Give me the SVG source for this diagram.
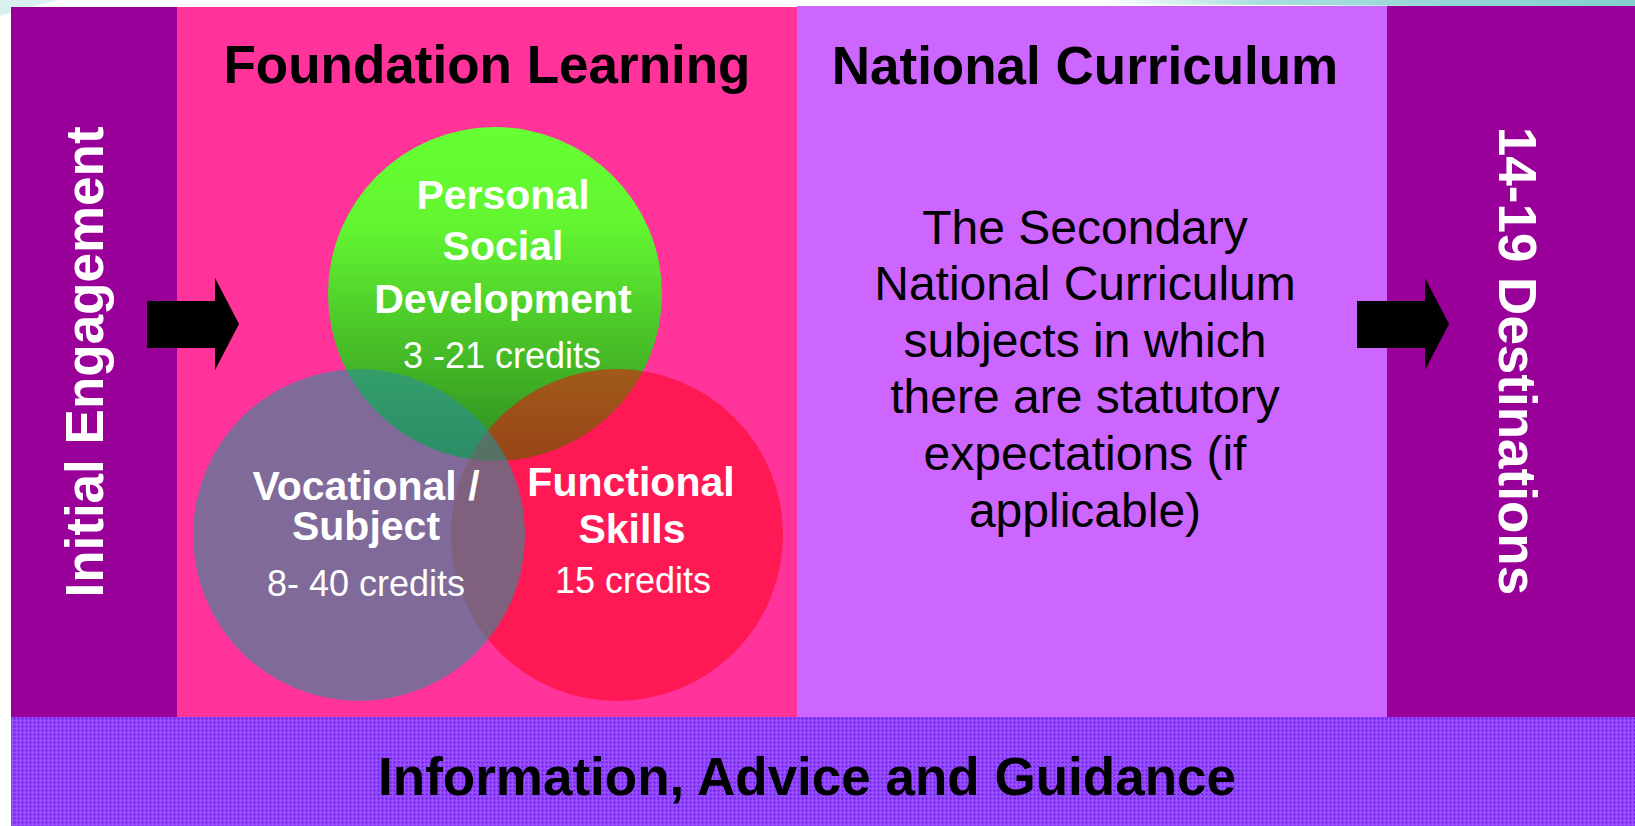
<svg xmlns="http://www.w3.org/2000/svg" width="1635" height="826" viewBox="0 0 1635 826">
  <defs>
    <linearGradient id="greenGrad" x1="0" y1="0" x2="0" y2="1">
      <stop offset="0" stop-color="#66ff33"/>
      <stop offset="0.3" stop-color="#62f531"/>
      <stop offset="1" stop-color="#2e8a1e"/>
    </linearGradient>
    <linearGradient id="cyanGrad" x1="0" y1="0" x2="1" y2="0">
      <stop offset="0" stop-color="#a8dede" stop-opacity="0"/>
      <stop offset="0.3" stop-color="#a8dede" stop-opacity="1"/>
      <stop offset="1" stop-color="#84cfcf"/>
    </linearGradient>
    <pattern id="bandTex" width="4" height="4" patternUnits="userSpaceOnUse">
      <rect width="4" height="4" fill="#8a3af8"/>
      <rect x="0" y="0" width="4" height="1" fill="#9950ff"/>
      <rect x="0" y="0" width="1" height="4" fill="#9950ff"/>
      <rect x="2" y="2" width="1" height="1" fill="#6010d4"/>
    </pattern>
    <style>
      .bold { font-family: "Liberation Sans", Arial, sans-serif; font-weight: bold; }
      .reg { font-family: "Liberation Sans", Arial, sans-serif; font-weight: normal; }
      .title { font-size: 53px; fill: #000000; text-anchor: middle; }
      .side { font-size: 53px; fill: #ffffff; text-anchor: middle; }
      .ctitle { font-size: 41px; fill: #ffffff; text-anchor: middle; }
      .ccred { font-size: 36px; fill: #ffffff; text-anchor: middle; }
      .body { font-size: 48px; fill: #000000; text-anchor: middle; }
      .arrow { fill: #000000; }
    </style>
  </defs>

  <rect width="1635" height="826" fill="#ffffff"/>
  <path d="M0,0 L60,0 Q30,6 0,16 Z" fill="#d8f0f0"/>
  <path d="M1100,0 L1635,0 L1635,7 L1100,4 Z" fill="url(#cyanGrad)"/>

  <g id="initial-engagement">
    <rect x="11" y="7" width="166" height="710" fill="#990099"/>
    <text class="bold side" transform="translate(103,362) rotate(-90)">Initial Engagement</text>
  </g>

  <g id="foundation-learning">
    <rect x="177" y="7" width="620" height="710" fill="#ff3399"/>
    <text class="bold title" x="487" y="83">Foundation Learning</text>
  </g>

  <g id="national-curriculum">
    <rect x="797" y="6" width="590" height="711" fill="#cc66ff"/>
    <text class="bold title" x="1085" y="84">National Curriculum</text>
    <text class="reg body" x="1085" y="244">The Secondary</text>
    <text class="reg body" x="1085" y="300">National Curriculum</text>
    <text class="reg body" x="1085" y="357">subjects in which</text>
    <text class="reg body" x="1085" y="413">there are statutory</text>
    <text class="reg body" x="1085" y="470">expectations (if</text>
    <text class="reg body" x="1085" y="527">applicable)</text>
  </g>

  <g id="destinations">
    <rect x="1387" y="6" width="248" height="711" fill="#990099"/>
    <text class="bold side" transform="translate(1499,361) rotate(90)">14-19 Destinations</text>
  </g>

  <g id="iag">
    <rect x="11" y="717" width="1624" height="109" fill="url(#bandTex)"/>
    <text class="bold title" x="807" y="795">Information, Advice and Guidance</text>
  </g>

  <g id="personal-social-development">
    <circle cx="495" cy="294" r="167" fill="url(#greenGrad)"/>
  </g>
  <g id="functional-skills">
    <circle cx="617" cy="535" r="166" fill="#ff0010" fill-opacity="0.5"/>
  </g>
  <g id="vocational-subject">
    <circle cx="359" cy="535" r="166" fill="#2a8f99" fill-opacity="0.6"/>
  </g>

  <g id="circle-labels">
    <text class="bold ctitle" x="503" y="209">Personal</text>
    <text class="bold ctitle" x="503" y="260">Social</text>
    <text class="bold ctitle" x="503" y="313">Development</text>
    <text class="reg ccred" x="502" y="368">3 -21 credits</text>
    <text class="bold ctitle" x="366" y="500">Vocational /</text>
    <text class="bold ctitle" x="366" y="540">Subject</text>
    <text class="reg ccred" x="366" y="596">8- 40 credits</text>
    <text class="bold ctitle" x="631" y="496">Functional</text>
    <text class="bold ctitle" x="632" y="543">Skills</text>
    <text class="reg ccred" x="633" y="593">15 credits</text>
  </g>

  <g id="connectors">
    <polygon class="arrow" points="147,301 215,301 215,278 239,324 215,370 215,348 147,348"/>
    <polygon class="arrow" points="1357,301 1425,301 1425,278 1449,324 1425,370 1425,348 1357,348"/>
  </g>
</svg>
